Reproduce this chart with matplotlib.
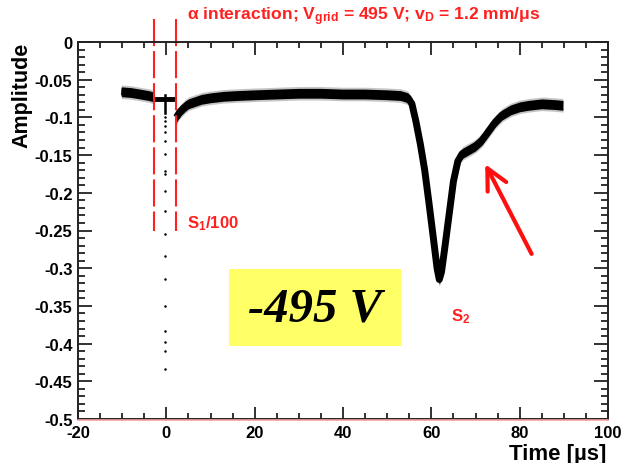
import matplotlib
matplotlib.use("Agg")
import matplotlib.pyplot as plt
from matplotlib.ticker import MultipleLocator
from matplotlib.patches import Rectangle
import numpy as np

# ---- data ----
t_pre = [-10.2, -8.0, -6.0, -4.0, -2.8]
a_pre = [-0.066, -0.067, -0.069, -0.071, -0.073]

t_flat = [-2.8, 2.3]
a_flat = [-0.075, -0.075]

t_post = [2.3, 3.0, 4.0, 5.0, 6.5, 8.0, 10.0, 13.0, 16.0, 20.0, 25.0, 30.0, 35.0,
          40.0, 45.0, 50.0, 53.0, 54.7, 55.6, 56.5, 57.5, 58.5, 59.5, 60.5, 61.3,
          61.8, 62.3, 63.0, 64.0, 65.0, 66.0, 67.0, 68.5, 70.0, 71.5, 73.0, 74.5,
          76.0, 78.0, 80.0, 82.0, 85.0, 88.0, 89.8]
a_post = [-0.100, -0.093, -0.087, -0.082, -0.079, -0.076, -0.074, -0.072, -0.071,
          -0.070, -0.069, -0.068, -0.068, -0.069, -0.069, -0.070, -0.071, -0.074,
          -0.082, -0.105, -0.135, -0.170, -0.215, -0.262, -0.300, -0.315, -0.305,
          -0.275, -0.230, -0.185, -0.158, -0.148, -0.143, -0.138, -0.130, -0.118,
          -0.106, -0.097, -0.090, -0.086, -0.084, -0.082, -0.083, -0.084]

t_s1 = [-0.2, -0.2]
a_s1 = [-0.070, -0.094]
t_dots = [-0.2] * 18
a_dots = [-0.099, -0.105, -0.111, -0.119, -0.131, -0.149, -0.171, -0.175, -0.198,
          -0.224, -0.255, -0.284, -0.314, -0.350, -0.383, -0.398, -0.410, -0.434]

win_t = [-2.7, 2.3]
win_a = [0.031, -0.25]

x_ticks = [-20, 0, 20, 40, 60, 80, 100]
y_ticks = [0, -0.05, -0.1, -0.15, -0.2, -0.25, -0.3, -0.35, -0.4, -0.45, -0.5]
y_ticklabels = ["0", "-0.05", "-0.1", "-0.15", "-0.2", "-0.25", "-0.3", "-0.35",
                "-0.4", "-0.45", "-0.5"]

RED = "#ff2020"

plt.rcParams['font.family'] = ['Liberation Sans', 'DejaVu Sans']
plt.rcParams['mathtext.fontset'] = 'custom'
plt.rcParams['mathtext.rm'] = 'Liberation Sans:bold'
plt.rcParams['mathtext.it'] = 'Liberation Sans:bold'
plt.rcParams['mathtext.bf'] = 'Liberation Sans:bold'

fig = plt.figure(figsize=(6.22, 4.64), dpi=100)
L, R, T, B = 78, 608, 43, 420
ax = fig.add_axes([L / 622, 1 - B / 464, (R - L) / 622, (B - T) / 464])
ax.set_xlim(-20, 100)
ax.set_ylim(-0.5, 0)

half = 0.0065
for tt, aa in ((t_pre, a_pre), (t_post, a_post)):
    tt = np.array(tt); aa = np.array(aa)
    ax.fill_between(tt, aa - half - 0.0025, aa + half + 0.0025, color='0.55',
                    alpha=0.5, lw=0)
    ax.fill_between(tt, aa - half, aa + half, color='black', lw=0)
    ax.plot(tt, aa, color='black', lw=5, solid_capstyle='butt', solid_joinstyle='round')

ax.plot(t_flat, a_flat, color='black', lw=3.5, solid_capstyle='butt')
ax.plot(t_s1, a_s1, color='black', lw=1.8)
ax.plot(t_dots, a_dots, 'o', color='black', ms=1.8, mew=0)

for xv in win_t:
    ax.plot([xv, xv], win_a, color=RED, lw=1.5, ls=(0, (13, 2.4)), clip_on=False)

# bottom pinkish line under the axis
ax.plot([-20, 100], [-0.5018, -0.5018], color='#f2a0a0', lw=1.2, clip_on=False, zorder=5)

# yellow box with label
ax.add_patch(Rectangle((14.25, -0.403), 53.2 - 14.25, 0.102, facecolor='#ffff66',
                       edgecolor='none', zorder=3))
ax.text(33.7, -0.354, "-495 V", family='Liberation Serif', fontweight='bold',
        style='italic', fontsize=35, ha='center', va='center', zorder=4)

ax.text(4.6, -0.240, r"S$_{1}$/100", color=RED, fontweight='bold', fontsize=12,
        ha='left', va='center')
ax.text(64.4, -0.363, r"S$_{2}$", color=RED, fontweight='bold', fontsize=12,
        ha='left', va='center')

ax.annotate('', xy=(72.2, -0.162), xytext=(82.7, -0.281),
            arrowprops=dict(arrowstyle='->,head_length=1.5,head_width=0.75',
                            color='#ff1010', lw=3, mutation_scale=10,
                            shrinkA=0, shrinkB=0))

fig.text(364 / 622, 1 - 17 / 464,
         r"$\alpha$ interaction; V$_{\rm grid}$ = 495 V; v$_{\rm D}$ = 1.2 mm/$\mu$s",
         color=RED, fontweight='bold', fontsize=12.6, ha='center', va='center')

# ticks
ax.set_xticks(x_ticks)
ax.set_xticklabels([str(v) for v in x_ticks])
ax.set_yticks(y_ticks)
ax.set_yticklabels(y_ticklabels)
ax.xaxis.set_minor_locator(MultipleLocator(5))
ax.yaxis.set_minor_locator(MultipleLocator(0.01))
ax.tick_params(which='both', direction='in', top=True, right=True, width=1.3,
               labelsize=12, color='#222222')
ax.tick_params(axis='x', which='major', length=9, pad=4)
ax.tick_params(axis='x', which='minor', length=4.5)
ax.tick_params(axis='y', which='major', length=10, pad=4)
ax.tick_params(axis='y', which='minor', length=5)
for lab in ax.get_xticklabels() + ax.get_yticklabels():
    lab.set_fontweight('bold')
for sp in ax.spines.values():
    sp.set_linewidth(1.4)
    sp.set_color('#222222')

fig.text(22 / 622, 1 - 43 / 464, "Amplitude", rotation=90, fontweight='bold',
         fontsize=15.5, ha='center', va='top')
fig.text(606 / 622, 1 - 460 / 464, "Time [\u00b5s]", fontsize=16, fontweight='bold',
         ha='right', va='baseline')

fig.savefig("out.png", dpi=100)
